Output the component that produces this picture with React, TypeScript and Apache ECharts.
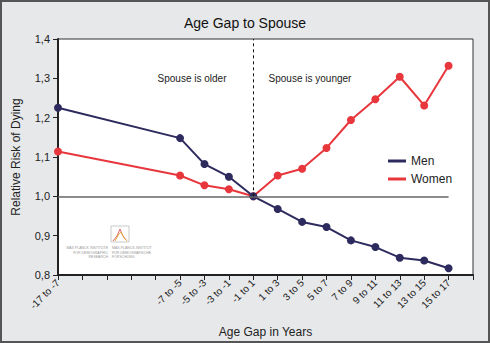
import React, { useEffect, useRef } from "react";
import * as echarts from "echarts";

const xLabels: Record<number, string> = {
  0: "-17 to -7",
  5: "-7 to -5",
  6: "-5 to -3",
  7: "-3 to -1",
  8: "-1 to 1",
  9: "1 to 3",
  10: "3 to 5",
  11: "5 to 7",
  12: "7 to 9",
  13: "9 to 11",
  14: "11 to 13",
  15: "13 to 15",
  16: "15 to 17",
};
const xPositions = [0, 5, 6, 7, 8, 9, 10, 11, 12, 13, 14, 15, 16];
const menValues = [1.225, 1.148, 1.082, 1.05, 1.0, 0.968, 0.935, 0.922, 0.888, 0.871, 0.844, 0.837, 0.817];
const womenValues = [1.114, 1.053, 1.028, 1.018, 1.0, 1.053, 1.07, 1.123, 1.194, 1.247, 1.304, 1.231, 1.332];

export default function App() {
  const ref = useRef<HTMLDivElement>(null);
  useEffect(() => {
    document.body.style.margin = "0";
    const chart = echarts.init(ref.current!, null, { renderer: "svg" });
    const font = "Liberation Sans, Arial, sans-serif";
    chart.setOption({
      animation: false,
      backgroundColor: "#e7e8ea",
      textStyle: { fontFamily: font },
      title: {
        text: "Age Gap to Spouse",
        left: "center",
        top: 11,
        textStyle: { fontSize: 14, fontWeight: "normal", color: "#111", fontFamily: font },
      },
      grid: {
        left: 58,
        right: 17,
        top: 39,
        bottom: 64,
        show: true,
        backgroundColor: "#ffffff",
        borderColor: "#333",
        borderWidth: 1,
      },
      legend: {
        left: 383,
        top: 150,
        orient: "vertical",
        itemWidth: 18,
        itemHeight: 3,
        itemGap: 6,
        icon: "rect",
        textStyle: { fontSize: 12, color: "#222", fontFamily: font },
        data: ["Men", "Women"],
      },
      xAxis: {
        type: "value",
        min: 0,
        max: 17,
        interval: 1,
        name: "Age Gap in Years",
        nameLocation: "middle",
        nameGap: 51,
        nameTextStyle: { fontSize: 12, color: "#222", fontFamily: font },
        splitLine: { show: false },
        axisLine: { lineStyle: { color: "#222", width: 2 } },
        axisTick: { show: true, length: 5, lineStyle: { color: "#222", width: 1 } },
        axisLabel: {
          rotate: 45,
          fontSize: 10,
          color: "#222",
          fontFamily: font,
          margin: 6,
          formatter: (v: number) => xLabels[Math.round(v)] ?? "",
        },
      },
      yAxis: {
        type: "value",
        min: 0.8,
        max: 1.4,
        interval: 0.1,
        name: "Relative Risk of Dying",
        nameLocation: "middle",
        nameGap: 36,
        nameTextStyle: { fontSize: 12, color: "#222", fontFamily: font },
        splitLine: { show: false },
        axisLine: { show: true, lineStyle: { color: "#222", width: 2 } },
        axisTick: { show: true, length: 5, lineStyle: { color: "#222", width: 1 } },
        axisLabel: {
          fontSize: 11,
          color: "#222",
          fontFamily: font,
          margin: 8,
          formatter: (v: number) => v.toFixed(1).replace(".", ","),
        },
      },
      graphic: [
        {
          type: "rect",
          shape: { x: 1, y: 1, width: 488, height: 341 },
          style: { fill: "none", stroke: "#555", lineWidth: 2 },
          silent: true,
        },
        {
          type: "text",
          x: 192,
          y: 78,
          style: { text: "Spouse is older", fontSize: 10, fill: "#222", align: "center", verticalAlign: "middle", fontFamily: font },
        },
        {
          type: "text",
          x: 310,
          y: 78,
          style: { text: "Spouse is younger", fontSize: 10, fill: "#222", align: "center", verticalAlign: "middle", fontFamily: font },
        },
        {
          type: "group",
          x: 66,
          y: 226,
          silent: true,
          children: [
            { type: "rect", shape: { x: 45, y: 0, width: 18, height: 16 }, style: { fill: "#fff", stroke: "#bbb", lineWidth: 0.8 } },
            { type: "polyline", shape: { points: [[47, 15], [51, 10], [54, 3], [57, 10], [61, 15]] }, style: { stroke: "#e06060", lineWidth: 1, fill: "none" } },
            { type: "polyline", shape: { points: [[49, 15], [53, 8], [55, 6], [58, 12], [61, 15]] }, style: { stroke: "#e8b040", lineWidth: 1, fill: "none" } },
            { type: "text", x: 42, y: 20, style: { text: "MAX PLANCK INSTITUTE\nFOR DEMOGRAPHIC\nRESEARCH", fontSize: 3.5, lineHeight: 4.5, fill: "#999", align: "right", fontFamily: font } },
            { type: "text", x: 46, y: 20, style: { text: "MAX-PLANCK-INSTITUT\nFÜR DEMOGRAFISCHE\nFORSCHUNG", fontSize: 3.5, lineHeight: 4.5, fill: "#999", align: "left", fontFamily: font } },
          ],
        },
      ],
      series: [
        {
          name: "Men",
          type: "line",
          data: xPositions.map((x, i) => [x, menValues[i]]),
          color: "#2d2a5e",
          lineStyle: { width: 2, color: "#2d2a5e" },
          symbol: "circle",
          symbolSize: 8,
          itemStyle: { color: "#2d2a5e" },
          z: 3,
          markLine: {
            silent: true,
            symbol: "none",
            label: { show: false },
            data: [
              [
                { coord: [0, 1.0], lineStyle: { color: "#666", width: 1.5, type: "solid" } },
                { coord: [16, 1.0] },
              ],
              [
                { coord: [8, 1.0], lineStyle: { color: "#111", width: 1, type: [3, 3] } },
                { coord: [8, 1.4] },
              ],
            ],
          },
        },
        {
          name: "Women",
          type: "line",
          data: xPositions.map((x, i) => [x, womenValues[i]]),
          color: "#e8363d",
          lineStyle: { width: 2, color: "#e8363d" },
          symbol: "circle",
          symbolSize: 8,
          itemStyle: { color: "#e8363d" },
          z: 2,
        },
      ],
    });
    return () => chart.dispose();
  }, []);
  return <div ref={ref} style={{ width: 490, height: 343 }} />;
}
